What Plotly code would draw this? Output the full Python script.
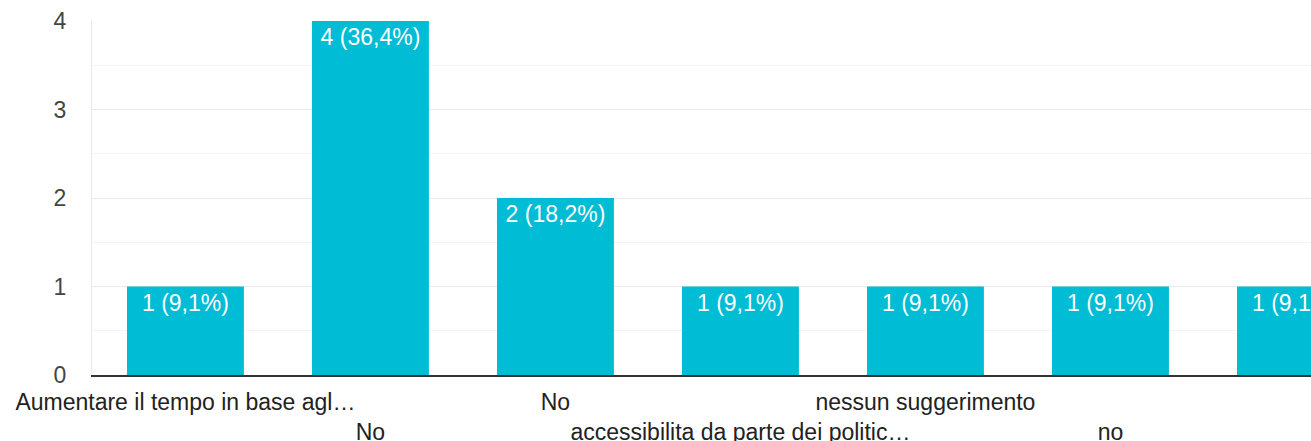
import plotly.graph_objects as go

categories = ["Aumentare il tempo in base agl…", "No", "No",
              "accessibilita da parte dei politic…", "nessun suggerimento",
              "no", "per il momento no"]
values = [1, 4, 2, 1, 1, 1, 1]
y_ticks = [0, 1, 2, 3, 4]

total = sum(values)
labels = [f"{v} ({v / total * 100:.1f}%)".replace(".", ",") for v in values]
idx = list(range(len(categories)))

FONT = "Arial, 'Liberation Sans', sans-serif"
FS = 23

fig = go.Figure()
fig.add_trace(go.Bar(
    x=idx, y=values, text=labels,
    textposition="inside", insidetextanchor="end",
    textfont=dict(color="white", size=FS, family=FONT),
    marker=dict(color="#00BCD4", line=dict(width=0)),
    cliponaxis=True, hoverinfo="skip",
))
# invisible twin so that the second (lower) row of category labels is drawn
fig.add_trace(go.Bar(
    x=idx, y=values, xaxis="x2", yaxis="y",
    marker=dict(color="rgba(0,0,0,0)", line=dict(width=0)),
    hoverinfo="skip", showlegend=False,
))

even = [i for i in idx if i % 2 == 0]
odd = [i for i in idx if i % 2 == 1]
xr = [-0.505, 6.084]

fig.update_layout(
    width=1311, height=441,
    margin=dict(l=92, r=0, t=21, b=66, autoexpand=False),
    plot_bgcolor="white", paper_bgcolor="white",
    showlegend=False, bargap=0.368, barmode="overlay",
    font=dict(family=FONT, size=FS, color="#222222"),
    xaxis=dict(
        range=xr, tickmode="array", tickvals=even,
        ticktext=[categories[i] for i in even],
        showgrid=False, zeroline=False, automargin=False,
        showline=True, linecolor="#333333", linewidth=2,
        ticks="", ticklabelstandoff=5,
        tickfont=dict(size=FS, color="#222222", family=FONT),
    ),
    xaxis2=dict(
        range=xr, overlaying="x", anchor="y", side="bottom",
        tickmode="array", tickvals=odd,
        ticktext=[categories[i] for i in odd],
        showgrid=False, zeroline=False, showline=False, automargin=False,
        ticks="", ticklabelstandoff=41,
        tickfont=dict(size=FS, color="#222222", family=FONT),
    ),
    yaxis=dict(
        range=[0, 4], tickmode="array", tickvals=y_ticks, automargin=False,
        showgrid=True, gridcolor="#ebebeb", gridwidth=1,
        zeroline=False, showline=True, linecolor="#ebebeb", linewidth=1,
        ticks="", ticklabelstandoff=20,
        tickfont=dict(size=FS, color="#444444", family=FONT),
        minor=dict(dtick=0.5, tick0=0, showgrid=True, gridcolor="#f4f4f4", gridwidth=1),
    ),
)

fig.write_html(
    "out.html",
    config={"displayModeBar": False},
    post_script="document.body.style.margin='0';document.body.style.overflow='hidden';",
)
